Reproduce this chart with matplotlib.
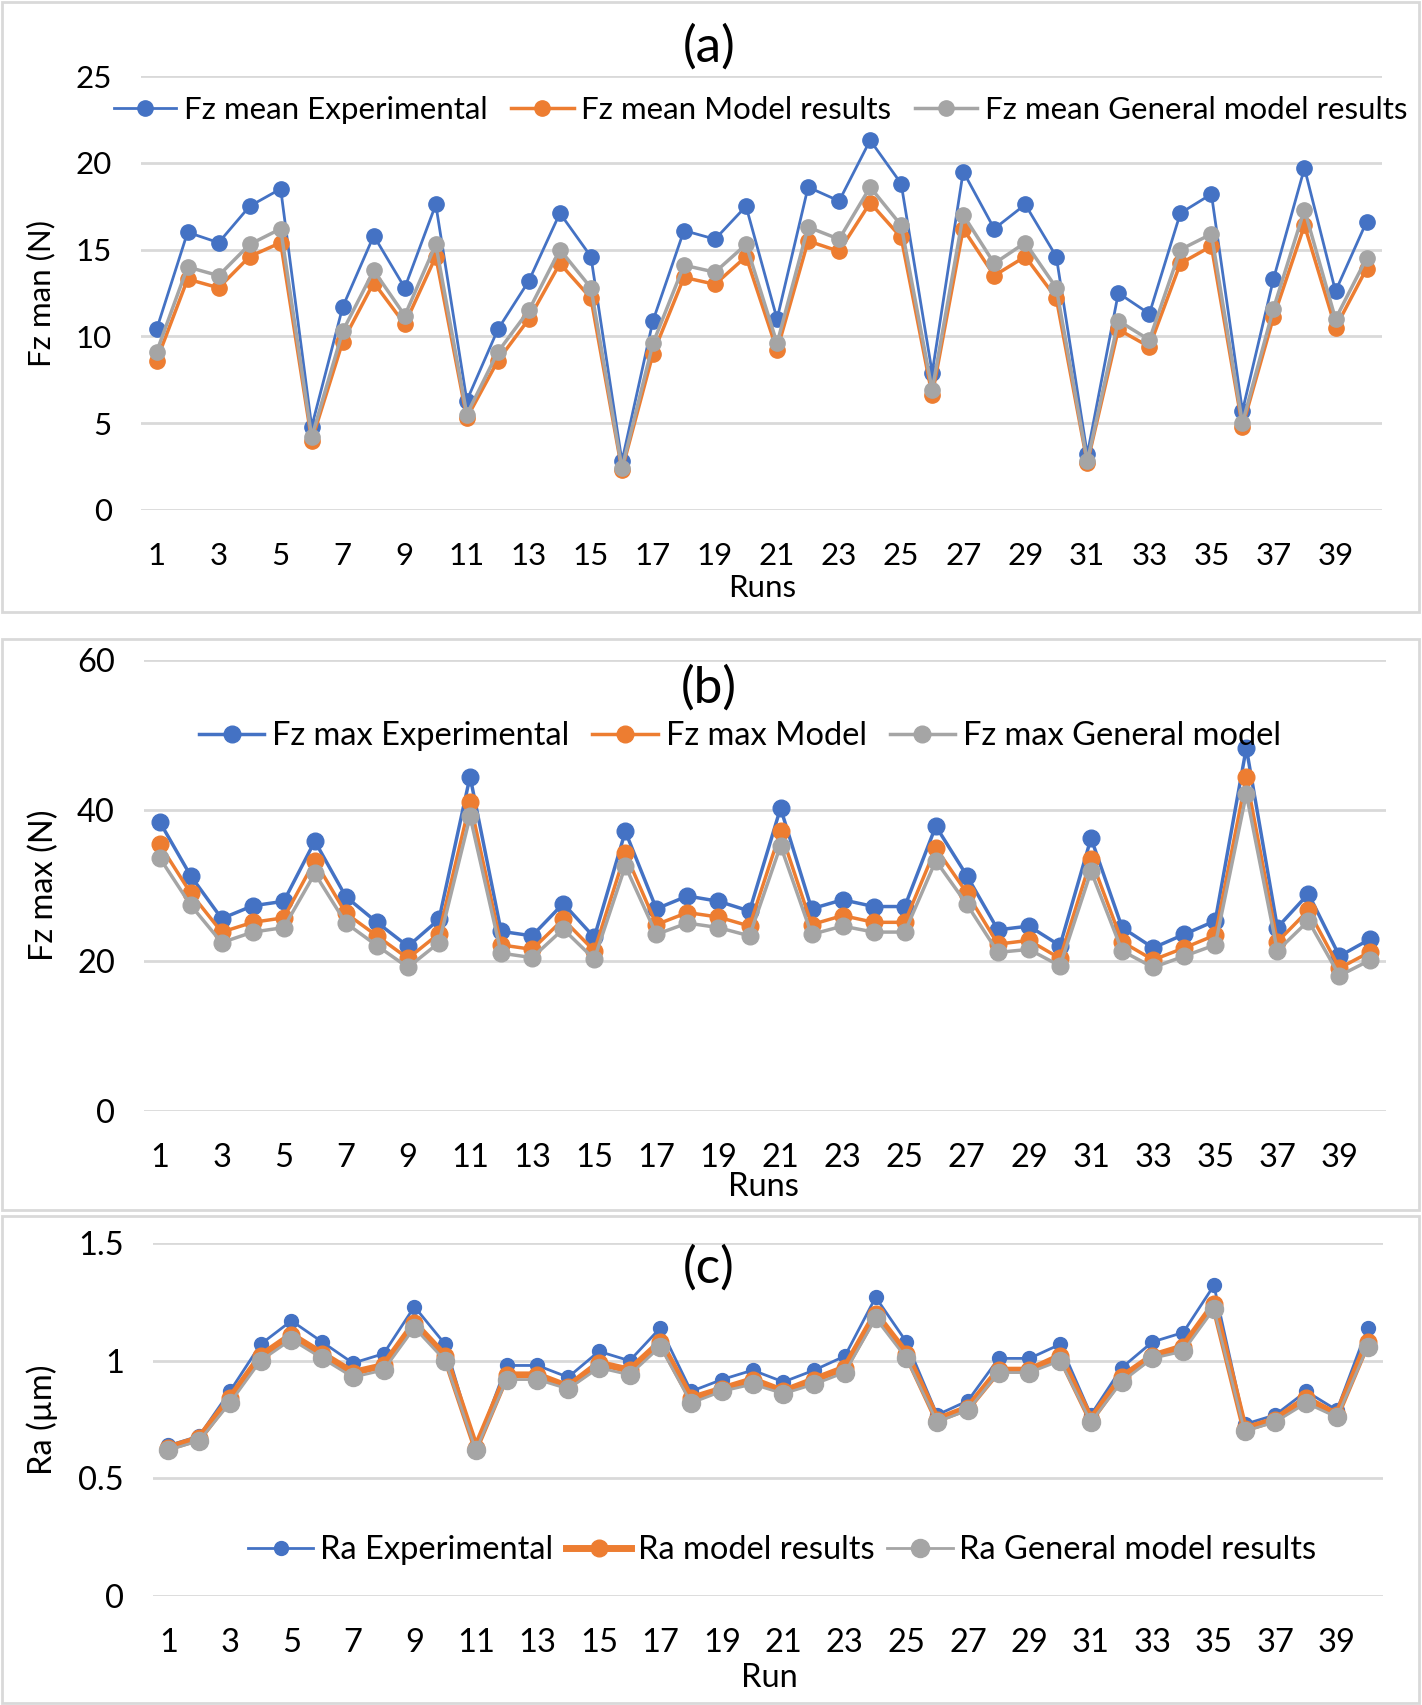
import numpy as np
import matplotlib.pyplot as plt
from matplotlib.patches import Rectangle

plt.rcParams['font.family'] = ['Lato', 'DejaVu Sans']

# -----------------------------
# Data
# -----------------------------
runs = np.arange(1, 41)

fz_mean_exp = [10.4, 16.0, 15.4, 17.5, 18.5, 4.8, 11.7, 15.8, 12.8, 17.6,
               6.3, 10.4, 13.2, 17.1, 14.6, 2.8, 10.9, 16.1, 15.6, 17.5,
               11.0, 18.6, 17.8, 21.3, 18.8, 7.9, 19.5, 16.2, 17.6, 14.6,
               3.2, 12.5, 11.3, 17.1, 18.2, 5.7, 13.3, 19.7, 12.6, 16.6]
fz_mean_model = [8.6, 13.3, 12.8, 14.6, 15.4, 4.0, 9.7, 13.1, 10.7, 14.6,
                 5.3, 8.6, 11.0, 14.2, 12.2, 2.3, 9.0, 13.4, 13.0, 14.6,
                 9.2, 15.5, 14.9, 17.7, 15.7, 6.6, 16.2, 13.5, 14.6, 12.2,
                 2.7, 10.4, 9.4, 14.2, 15.2, 4.8, 11.1, 16.4, 10.5, 13.9]
fz_mean_general = [9.1, 14.0, 13.5, 15.3, 16.2, 4.2, 10.3, 13.8, 11.2, 15.3,
                   5.5, 9.1, 11.5, 15.0, 12.8, 2.4, 9.6, 14.1, 13.7, 15.3,
                   9.6, 16.3, 15.6, 18.6, 16.4, 6.9, 17.0, 14.2, 15.4, 12.8,
                   2.8, 10.9, 9.8, 15.0, 15.9, 5.0, 11.6, 17.3, 11.0, 14.5]

fz_max_exp = [38.5, 31.3, 25.6, 27.3, 27.9, 35.9, 28.5, 25.1, 21.9, 25.5,
              44.5, 23.9, 23.3, 27.6, 23.1, 37.2, 26.9, 28.6, 27.9, 26.6,
              40.3, 26.9, 28.1, 27.2, 27.2, 37.9, 31.3, 24.1, 24.6, 22.0,
              36.3, 24.4, 21.7, 23.5, 25.3, 48.3, 24.4, 28.9, 20.6, 22.9]
fz_max_model = [35.5, 29.0, 23.8, 25.1, 25.7, 33.3, 26.3, 23.3, 20.3, 23.6,
                41.1, 22.1, 21.5, 25.5, 21.3, 34.3, 24.8, 26.4, 25.8, 24.6,
                37.2, 24.8, 26.0, 25.1, 25.1, 35.0, 29.0, 22.2, 22.7, 20.3,
                33.5, 22.5, 20.1, 21.7, 23.4, 44.4, 22.5, 26.7, 19.0, 21.2]
fz_max_general = [33.7, 27.4, 22.4, 23.8, 24.4, 31.6, 25.0, 22.0, 19.1, 22.4,
                  39.2, 21.0, 20.4, 24.2, 20.2, 32.6, 23.5, 25.0, 24.4, 23.3,
                  35.3, 23.5, 24.6, 23.8, 23.8, 33.3, 27.5, 21.1, 21.5, 19.3,
                  31.9, 21.3, 19.1, 20.6, 22.1, 42.2, 21.3, 25.3, 18.0, 20.1]

ra_exp = [0.64, 0.68, 0.87, 1.07, 1.17, 1.08, 0.99, 1.03, 1.23, 1.07,
          0.63, 0.98, 0.98, 0.93, 1.04, 1.00, 1.14, 0.87, 0.92, 0.96,
          0.91, 0.96, 1.02, 1.27, 1.08, 0.77, 0.83, 1.01, 1.01, 1.07,
          0.77, 0.97, 1.08, 1.12, 1.32, 0.73, 0.77, 0.87, 0.79, 1.14]
ra_model = [0.63, 0.67, 0.84, 1.02, 1.11, 1.03, 0.95, 0.98, 1.16, 1.02,
            0.63, 0.94, 0.94, 0.89, 0.99, 0.96, 1.08, 0.84, 0.88, 0.92,
            0.87, 0.92, 0.97, 1.20, 1.03, 0.75, 0.80, 0.96, 0.96, 1.02,
            0.75, 0.93, 1.02, 1.06, 1.24, 0.71, 0.75, 0.84, 0.77, 1.08]
ra_general = [0.62, 0.66, 0.82, 1.00, 1.09, 1.01, 0.93, 0.96, 1.14, 1.00,
              0.62, 0.92, 0.92, 0.88, 0.97, 0.94, 1.06, 0.82, 0.87, 0.90,
              0.86, 0.90, 0.95, 1.18, 1.01, 0.74, 0.79, 0.95, 0.95, 1.00,
              0.74, 0.91, 1.01, 1.04, 1.22, 0.70, 0.74, 0.82, 0.76, 1.06]

# -----------------------------
# Styling
# -----------------------------
BLUE, ORANGE, GRAY = '#4472C4', '#ED7D31', '#A5A5A5'
GRID = '#D9D9D9'

fig = plt.figure(figsize=(14.22, 17.05), dpi=100)

# light grey frames around each panel (as in the Excel export)
for y0, h in [(0.641, 0.3578), (0.2903, 0.3349), (0.0012, 0.2856)]:
    fig.add_artist(Rectangle((0.0014, y0), 0.9965, h, transform=fig.transFigure,
                             fill=False, edgecolor=GRID, linewidth=2))


def setup_axes(rect, ymax, ystep, ylabel, ylab_x, fs):
    ax = fig.add_axes(rect)
    ax.set_xlim(0.5, 40.5)
    ax.set_ylim(0, ymax)
    ax.set_xticks(np.arange(1, 40, 2))
    yt = np.arange(0, ymax + ystep / 2, ystep)
    ax.set_yticks(yt)
    ax.set_yticklabels([f'{v:g}' for v in yt])
    ax.tick_params(length=0, labelsize=fs)
    ax.tick_params(axis='x', pad=23)
    ax.tick_params(axis='y', pad=21)
    for s in ax.spines.values():
        s.set_visible(False)
    ax.grid(axis='y', color=GRID, linewidth=2)
    ax.set_axisbelow(True)
    ax.set_ylabel(ylabel, fontsize=fs)
    ax.yaxis.set_label_coords(ylab_x, 0.5)
    return ax


# (a) Fz mean
fs = 22.5
ax1 = setup_axes([0.0992, 0.7009, 0.8727, 0.2545], 25, 5, 'Fz man (N)', -0.069, fs)
ax1.plot(runs, fz_mean_exp, '-o', color=BLUE, lw=2, ms=11, label='Fz mean Experimental')
ax1.plot(runs, fz_mean_model, '-o', color=ORANGE, lw=2.5, ms=11, label='Fz mean Model results')
ax1.plot(runs, fz_mean_general, '-o', color=GRAY, lw=2.5, ms=11, label='Fz mean General model results')
ax1.legend(loc='center', bbox_to_anchor=(0.535, 0.9355), bbox_transform=fig.transFigure,
           ncol=3, frameon=False, fontsize=fs, handlelength=2.0, handletextpad=0.25,
           columnspacing=0.75)
fig.text(0.4986, 0.9724, '(a)', fontsize=37, ha='center', va='center')
fig.text(0.536, 0.6551, 'Runs', fontsize=fs, ha='center', va='center')

# (b) Fz max
fs = 23.5
ax2 = setup_axes([0.1013, 0.3484, 0.8734, 0.2645], 60, 20, 'Fz max (N)', -0.068, fs)
ax2.plot(runs, fz_max_exp, '-o', color=BLUE, lw=2.5, ms=12, label='Fz max Experimental')
ax2.plot(runs, fz_max_model, '-o', color=ORANGE, lw=2.5, ms=12, label='Fz max Model')
ax2.plot(runs, fz_max_general, '-o', color=GRAY, lw=2.5, ms=12, label='Fz max General model')
ax2.legend(loc='center', bbox_to_anchor=(0.5204, 0.5683), bbox_transform=fig.transFigure,
           ncol=3, frameon=False, fontsize=fs, handlelength=2.0, handletextpad=0.25,
           columnspacing=0.7)
fig.text(0.4986, 0.5965, '(b)', fontsize=37, ha='center', va='center')
fig.text(0.537, 0.3038, 'Runs', fontsize=fs, ha='center', va='center')

# (c) Ra
fs = 23.5
ax3 = setup_axes([0.1076, 0.0639, 0.865, 0.207], 1.5, 0.5, 'Ra (µm)', -0.077, fs)
ax3.plot(runs, ra_exp, '-o', color=BLUE, lw=2, ms=10, label='Ra Experimental')
ax3.plot(runs, ra_model, '-o', color=ORANGE, lw=5, ms=12, label='Ra model results')
ax3.plot(runs, ra_general, '-o', color=GRAY, lw=2, ms=13, label='Ra General model results')
ax3.legend(loc='center', bbox_to_anchor=(0.55, 0.0909), bbox_transform=fig.transFigure,
           ncol=3, frameon=False, fontsize=fs, handlelength=2.0, handletextpad=0.2,
           columnspacing=0.4)
fig.text(0.4986, 0.2563, '(c)', fontsize=37, ha='center', va='center')
fig.text(0.5408, 0.0158, 'Run', fontsize=fs, ha='center', va='center')

fig.savefig('out.png', dpi=100)
